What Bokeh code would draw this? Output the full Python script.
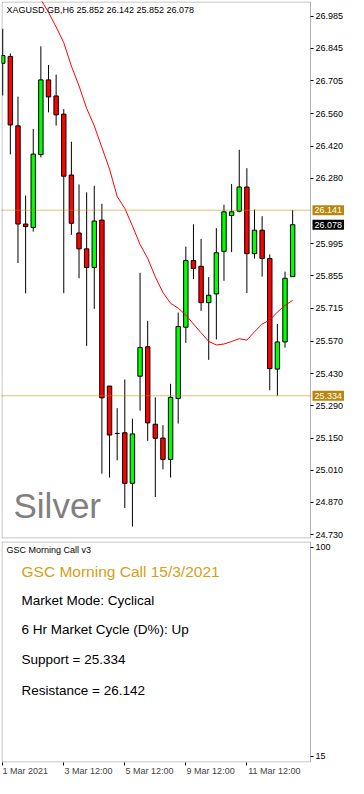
from bokeh.plotting import figure
from bokeh.layouts import column
from bokeh.models import (ColumnDataSource, FixedTicker, PrintfTickFormatter,
                          Label, Range1d, LinearAxis, BoxAnnotation)
from bokeh.embed import file_html
from bokeh.resources import INLINE

FONT = "Liberation Sans"

symbol = "XAGUSD.GB,H6"
opens = [26.780, 26.810, 26.508, 26.081, 26.066, 26.383, 26.708, 26.638, 26.559, 26.294,
         26.042, 25.973, 25.892, 26.098, 25.376, 25.170, 25.173, 24.953, 25.419, 25.547,
         25.210, 25.150, 25.057, 25.322, 25.632, 25.922, 25.897, 25.739, 25.777, 25.962,
         26.118, 26.137, 26.242, 25.952, 26.054, 25.931, 25.450, 25.568, 25.852]
highs = [26.930, 26.823, 26.635, 26.205, 26.495, 26.854, 26.773, 26.731, 26.581, 26.439,
         26.253, 26.219, 26.247, 26.169, 25.377, 25.280, 25.405, 25.234, 25.869, 25.660,
         25.327, 25.206, 25.386, 25.696, 25.983, 26.080, 26.016, 25.850, 26.063, 26.165,
         26.255, 26.404, 26.324, 26.144, 26.115, 25.949, 25.646, 25.874, 26.142]
lows = [26.640, 26.384, 25.911, 25.779, 26.048, 26.371, 26.567, 26.509, 25.780, 26.034,
        25.845, 25.551, 25.712, 24.995, 24.978, 25.053, 24.846, 24.765, 25.269, 25.138,
        24.893, 25.014, 24.978, 25.213, 25.564, 25.841, 25.703, 25.490, 25.579, 25.834,
        25.959, 26.132, 25.781, 25.931, 25.852, 25.358, 25.334, 25.543, 25.852]
closes = [26.814, 26.512, 26.081, 26.070, 26.385, 26.708, 26.634, 26.556, 26.289, 26.084,
          25.973, 25.892, 26.094, 25.325, 25.163, 25.170, 24.953, 25.168, 25.544, 25.216,
          25.149, 25.057, 25.327, 25.635, 25.922, 25.888, 25.739, 25.771, 25.956, 26.134,
          26.134, 26.242, 25.952, 26.054, 25.931, 25.452, 25.568, 25.845, 26.078]
ma_values = [None, None, None, None, 27.113, 27.057, 27.002, 26.938, 26.870, 26.768,
             26.682, 26.584, 26.508, 26.414, 26.320, 26.201, 26.149, 26.073, 25.992, 25.932,
             25.851, 25.783, 25.736, 25.715, 25.685, 25.646, 25.608, 25.570, 25.555, 25.559,
             25.570, 25.582, 25.576, 25.612, 25.646, 25.663, 25.698, 25.727, 25.749]

time_ticks = [0, 8, 16, 24, 32]
time_labels = ["1 Mar 2021", "3 Mar 12:00", "5 Mar 12:00", "9 Mar 12:00", "11 Mar 12:00"]
price_ticks = [24.730, 24.870, 25.010, 25.150, 25.290, 25.430, 25.570, 25.715, 25.855,
               25.995, 26.280, 26.420, 26.560, 26.705, 26.845, 26.985]
support = 25.334
resistance = 26.141
osc_ticks = [15, 100]
panel_title = "GSC Morning Call v3"
call_title = "GSC Morning Call 15/3/2021"
info_lines = ["Market Mode: Cyclical", "6 Hr Market Cycle (D%): Up",
              "Support = 25.334", "Resistance = 26.142"]

n = len(opens)
idx = list(range(n))
src = ColumnDataSource(dict(
    x=idx, high=highs, low=lows,
    top=[max(o, c) for o, c in zip(opens, closes)],
    bottom=[min(o, c) for o, c in zip(opens, closes)],
    color=["#00FF00" if c > o else "#FF0000" for o, c in zip(opens, closes)],
))
ma_x = [i for i, v in zip(idx, ma_values) if v is not None]
ma_y = [v for v in ma_values if v is not None]

W = 348
FRAME_W = W - 2          # frame spans nearly the whole figure
STRIP = 37               # price-scale strip at the right, inside the frame
X0, XB = -0.16, 40.34    # visible candle area
px_per_unit = (FRAME_W - STRIP) / (XB - X0)
xr = Range1d(X0, XB + STRIP / px_per_unit)
HALF_X = 0.5 / px_per_unit


def style_right_axis(ax):
    ax.fixed_location = XB
    ax.major_label_text_font = FONT
    ax.major_label_text_font_size = "9px"
    ax.major_label_text_color = "black"
    ax.major_tick_in = 0
    ax.major_tick_out = 3
    ax.minor_tick_in = 0
    ax.minor_tick_out = 0
    ax.major_label_standoff = 2
    ax.axis_line_color = None


def frame_box(fig, y0, y1, frame_h):
    half_y = 0.5 * (y1 - y0) / frame_h
    fig.add_layout(BoxAnnotation(left=X0 + HALF_X, right=XB, bottom=y0 + half_y,
                                 top=y1 - half_y, fill_color=None,
                                 line_color="black", line_width=1, level="overlay"))


PY0, PY1 = 24.713, 27.049
p = figure(width=W, height=539, x_range=xr, y_range=Range1d(PY0, PY1),
           output_backend="svg", toolbar_location=None, x_axis_location=None,
           y_axis_location="right", min_border_left=1, min_border_right=1,
           min_border_top=1, min_border_bottom=1)
p.grid.visible = False
p.outline_line_color = None
p.background_fill_color = "white"
p.border_fill_color = "white"

p.segment(x0="x", y0="low", x1="x", y1="high", source=src, color="black", line_width=1)
p.vbar(x="x", width=0.58, top="top", bottom="bottom", fill_color="color",
       line_color="black", line_width=1, source=src)
p.line(ma_x, ma_y, color="#FF0000", line_width=1)

for lvl in (support, resistance):
    p.add_layout(BoxAnnotation(left=X0, right=XB, bottom=lvl, top=lvl, fill_color=None,
                               line_color="#C09000", line_width=1))

ya = p.yaxis[0]
ya.ticker = FixedTicker(ticks=price_ticks)
ya.formatter = PrintfTickFormatter(format="%.3f")
style_right_axis(ya)
frame_box(p, PY0, PY1, 537)

for val, bg in ((resistance, "#B8860B"), (closes[-1], "black"), (support, "#B8860B")):
    p.add_layout(Label(x=XB, y=val, x_units="data", y_units="data", x_offset=2,
                       text=f"{val:.3f}", text_color="white", text_font=FONT,
                       text_font_size="9px", text_baseline="middle", text_align="left",
                       background_fill_color=bg, padding=2, level="overlay"))

header = f"{symbol}  {opens[-1]:.3f} {highs[-1]:.3f} {lows[-1]:.3f} {closes[-1]:.3f}"
p.add_layout(Label(x=5, y=27.011, x_units="screen", y_units="data", text=header,
                   text_font=FONT, text_font_size="9px", text_color="black",
                   text_baseline="middle"))
p.add_layout(Label(x=12, y=24.770, x_units="screen", y_units="data", text="Silver",
                   text_font=FONT, text_font_size="35px", text_color="#808080",
                   text_baseline="bottom"))

QY0, QY1 = 12.56, 102.4
q = figure(width=W, height=239, x_range=xr, y_range=Range1d(QY0, QY1),
           output_backend="svg", toolbar_location=None, y_axis_location="right",
           min_border_left=1, min_border_right=1, min_border_top=2, min_border_bottom=0)
q.grid.visible = False
q.outline_line_color = None
q.background_fill_color = "white"
q.border_fill_color = "white"

qa = q.yaxis[0]
qa.ticker = FixedTicker(ticks=osc_ticks)
style_right_axis(qa)
frame_box(q, QY0, QY1, 217)

# tick marks at the time positions, labels on a second axis shifted to start at each tick
xa = q.xaxis[0]
xa.ticker = FixedTicker(ticks=time_ticks)
xa.major_label_overrides = {t: "" for t in time_ticks}
xa.major_label_text_font_size = "1px"
xa.major_tick_out = 3
xa.major_tick_in = 0
xa.minor_tick_out = 0
xa.minor_tick_in = 0
xa.major_label_standoff = 0
xa.axis_line_color = None

label_half_widths = [2.95, 3.25, 3.25, 3.25, 3.6]  # candle units: centre of text starting at tick
label_pos = [t + h for t, h in zip(time_ticks, label_half_widths)]
xa2 = LinearAxis(ticker=FixedTicker(ticks=label_pos),
                 major_label_overrides={pos: l for pos, l in zip(label_pos, time_labels)},
                 major_label_text_font=FONT, major_label_text_font_size="9px",
                 major_tick_out=0, major_tick_in=0, minor_tick_out=0, minor_tick_in=0,
                 major_label_standoff=0, axis_line_color=None)
q.add_layout(xa2, "below")

q.add_layout(Label(x=5, y=99.1, x_units="screen", y_units="data", text=panel_title,
                   text_font=FONT, text_font_size="9px", text_color="black",
                   text_baseline="middle"))
q.add_layout(Label(x=20, y=90.3, x_units="screen", y_units="data", text=call_title,
                   text_font=FONT, text_font_size="15.5px", text_color="#D4A017",
                   text_baseline="middle"))
for yv, line in zip([78.4, 66.6, 54.4, 41.8], info_lines):
    q.add_layout(Label(x=20, y=yv, x_units="screen", y_units="data", text=line,
                       text_font=FONT, text_font_size="13.5px", text_color="black",
                       text_baseline="middle"))

layout = column(p, q, spacing=0)
open("out.html", "w").write(file_html(layout, INLINE))
